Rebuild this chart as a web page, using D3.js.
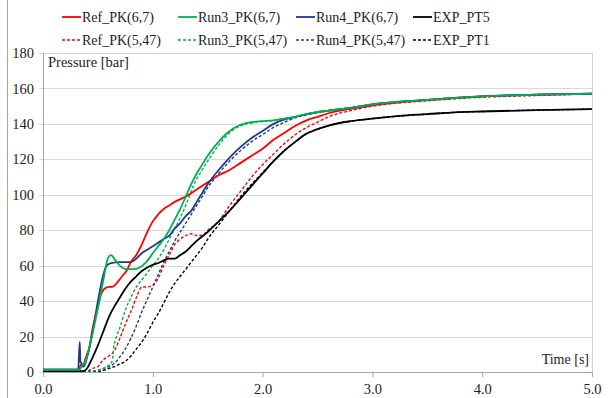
<!DOCTYPE html>
<html>
<head>
<meta charset="utf-8">
<script src="https://cdn.jsdelivr.net/npm/d3@7"></script>
</head>
<body style="margin:0">
<script>
// pressure curves, [time s, pressure bar]

var refPK67 = [[0,1.2],[0.33,1.2],[0.34,4],[0.36,3],[0.38,6],[0.4,10],[0.42,13],[0.45,24],[0.5,37],[0.53,44],[0.56,47],[0.6,48],[0.63,48],[0.67,50],[0.72,54],[0.76,57],[0.8,62],[0.85,66],[0.9,72],[0.95,79],[1.0,85],[1.05,89],[1.1,92],[1.15,94],[1.2,96],[1.3,99],[1.4,103],[1.5,107],[1.6,111],[1.7,114],[1.8,118],[1.9,122],[2.0,126],[2.1,131],[2.2,135],[2.3,139],[2.4,142],[2.5,144],[2.6,146],[2.8,148.5],[3.0,150.5],[3.5,153.5],[4.0,155.5],[4.5,156.5],[5.0,157]];

var refPK547 = [[0,0.5],[0.4,0.5],[0.45,2],[0.5,3],[0.55,7],[0.6,9],[0.65,12],[0.7,19],[0.75,27],[0.8,34],[0.85,42],[0.9,48],[0.95,48],[1.0,49],[1.05,53],[1.1,60],[1.15,66],[1.2,72],[1.25,75],[1.3,77],[1.35,78],[1.4,77],[1.45,77],[1.5,80],[1.6,85],[1.7,94],[1.8,102],[1.9,110],[2.0,117],[2.1,123],[2.2,129],[2.3,134],[2.4,138],[2.5,141],[2.6,144],[2.8,147.5],[3.0,150],[3.5,153],[4.0,155],[4.5,156],[5.0,157]];

var run3PK67 = [[0,1.2],[0.33,1.2],[0.35,3],[0.38,5],[0.43,16],[0.47,27],[0.5,36],[0.55,52],[0.59,64],[0.62,66],[0.66,63],[0.7,60],[0.76,58],[0.82,58],[0.88,59],[0.94,62],[1.0,67],[1.05,71],[1.1,75],[1.15,80],[1.2,86],[1.25,92],[1.3,99],[1.35,106],[1.4,112],[1.45,117],[1.5,122],[1.6,130],[1.7,136],[1.8,139.5],[1.9,141],[2.0,141.5],[2.1,142],[2.2,143],[2.3,144],[2.4,145.5],[2.6,147.5],[2.8,149],[3.0,151],[3.5,153.5],[4.0,155.5],[4.5,156.5],[5.0,157]];

var run3PK547 = [[0,0.5],[0.45,0.5],[0.5,1],[0.55,2],[0.6,4],[0.63,6],[0.645,14],[0.67,20],[0.7,25],[0.75,35],[0.8,42],[0.85,48],[0.9,52],[0.95,56],[1.0,60],[1.05,64],[1.1,69],[1.15,75],[1.2,81],[1.25,87],[1.3,94],[1.35,102],[1.4,109],[1.45,114],[1.5,119],[1.6,128],[1.7,135],[1.8,139],[1.9,140.5],[2.0,141.5],[2.1,142],[2.2,143],[2.3,144],[2.4,145.5],[2.6,147.5],[2.8,149],[3.0,151],[3.5,153.5],[4.0,155.5],[4.5,156.5],[5.0,157]];

var run4PK67 = [[0,1.5],[0.32,1.5],[0.335,17],[0.34,6],[0.35,5],[0.37,3],[0.4,8],[0.45,22],[0.5,40],[0.55,55],[0.58,60],[0.62,61.5],[0.7,62],[0.8,62],[0.85,64],[0.9,67],[0.95,69],[1.0,71],[1.05,73],[1.1,75],[1.15,77],[1.2,81],[1.25,84],[1.3,88],[1.35,91],[1.4,96],[1.45,101],[1.5,106],[1.6,114],[1.7,121],[1.8,127],[1.9,132],[2.0,136],[2.1,140],[2.2,142.5],[2.3,144],[2.4,145.5],[2.6,147.5],[2.8,149],[3.0,151],[3.5,153.5],[4.0,155.5],[4.5,156.5],[5.0,157]];

var run4PK547 = [[0,0.5],[0.45,0.5],[0.5,1],[0.55,2],[0.6,3],[0.65,5],[0.7,8.5],[0.75,13],[0.8,19],[0.85,26],[0.9,34],[0.95,41],[1.0,48],[1.05,55],[1.1,62],[1.15,68],[1.2,74],[1.25,79],[1.3,84],[1.35,89],[1.4,94],[1.45,99],[1.5,104],[1.6,112],[1.7,119],[1.8,125],[1.9,130],[2.0,134],[2.1,138],[2.2,141],[2.3,143.5],[2.4,145],[2.6,147.5],[2.8,149],[3.0,151],[3.5,153.5],[4.0,155.5],[4.5,156.5],[5.0,157]];

var expPT5 = [[0,0.3],[0.37,0.5],[0.4,2],[0.45,8],[0.5,15],[0.55,23],[0.6,31],[0.65,37],[0.7,42],[0.75,47],[0.8,51],[0.85,54],[0.9,57],[0.95,59],[1.0,60.5],[1.05,61.5],[1.1,63],[1.15,64],[1.2,64],[1.25,66],[1.3,68],[1.35,71],[1.4,74],[1.5,79],[1.6,85],[1.7,91],[1.8,98],[1.9,105],[2.0,112],[2.1,119],[2.2,125],[2.3,130],[2.4,134.5],[2.5,137],[2.6,139],[2.7,140.5],[2.8,141.5],[3.0,143],[3.25,144.5],[3.5,145.5],[3.75,146.5],[4.0,147],[4.5,147.8],[5.0,148.3]];

var expPT1 = [[0,0.2],[0.5,0.2],[0.55,1],[0.6,2],[0.65,3],[0.7,4.5],[0.75,6],[0.8,9],[0.85,13],[0.9,17],[0.95,22],[1.0,28],[1.05,33],[1.1,39],[1.15,45],[1.2,50],[1.25,54],[1.3,58],[1.35,62],[1.4,66],[1.45,70],[1.5,75],[1.6,83],[1.7,91],[1.8,99],[1.9,106],[2.0,112.5],[2.1,119],[2.2,125],[2.3,130],[2.4,134.5],[2.5,137],[2.6,139],[2.7,140.5],[2.8,141.5],[3.0,143],[3.25,144.5],[3.5,145.5],[3.75,146.5],[4.0,147],[4.5,147.8],[5.0,148.3]];

var seriesNames = ["Ref_PK(6,7)", "Run3_PK(6,7)", "Run4_PK(6,7)", "EXP_PT5",
                   "Ref_PK(5,47)", "Run3_PK(5,47)", "Run4_PK(5,47)", "EXP_PT1"];
var seriesData = [refPK67, run3PK67, run4PK67, expPT5,
                  refPK547, run3PK547, run4PK547, expPT1];
var colors = ["#ff0000", "#00b050", "#1f3a8a", "#000000",
              "#ff0000", "#00b050", "#1f3a8a", "#000000"];

var xTicks = [0, 1, 2, 3, 4, 5];
var yTicks = [0, 20, 40, 60, 80, 100, 120, 140, 160, 180];

var serif = "'Liberation Serif'";

var width = 608, height = 398;
var margin = {top: 53, right: 16, bottom: 26, left: 43};
var w = width - margin.left - margin.right,
    h = height - margin.top - margin.bottom;

var svg = d3.select("body").append("svg")
    .attr("width", width)
    .attr("height", height)
    .style("font-family", serif)
    .style("background", "#fff");

// outer frame edge on the left
svg.append("line")
    .attr("x1", 7.5).attr("x2", 7.5)
    .attr("y1", 0).attr("y2", height)
    .style("stroke", "#a6a6a6");

var g = svg.append("g")
    .attr("transform", "translate(" + margin.left + "," + margin.top + ")");

var x = d3.scaleLinear().domain([0, 5]).range([0, w]);
var y = d3.scaleLinear().domain([0, 180]).range([h, 0]);

// gridlines
g.append("g")
    .selectAll("line")
    .data(yTicks)
    .enter().append("line")
    .attr("x1", -4).attr("x2", w)
    .attr("y1", function(d) { return Math.round(y(d)) + 0.5; })
    .attr("y2", function(d) { return Math.round(y(d)) + 0.5; })
    .style("stroke", "#d9d9d9");

// plot box
g.append("rect")
    .attr("x", 0.5).attr("y", 0.5)
    .attr("width", w).attr("height", h)
    .style("fill", "none")
    .style("stroke", "#d0d0d0");

// axes
var xAxis = g.append("g")
    .attr("transform", "translate(0," + h + ")")
    .call(d3.axisBottom(x).tickValues(xTicks).tickSize(5).tickSizeOuter(0).tickFormat(d3.format(".1f")));
xAxis.select(".domain").style("stroke", "#a6a6a6");
xAxis.selectAll(".tick line").style("stroke", "#a6a6a6");
xAxis.selectAll("text")
    .attr("dy", "0.8em")
    .attr("y", 10)
    .style("font-family", serif)
    .style("font-size", "14.5px")
    .style("fill", "#222");

var yAxis = g.append("g")
    .call(d3.axisLeft(y).tickValues(yTicks).tickSize(0).tickSizeOuter(0));
yAxis.select(".domain").style("stroke", "#a6a6a6");
yAxis.selectAll("text")
    .attr("x", -9)
    .style("font-family", serif)
    .style("font-size", "14.5px")
    .style("fill", "#222");

// axis titles inside the plot
g.append("text")
    .attr("x", 5)
    .attr("y", 14)
    .style("font-family", serif)
    .style("font-size", "14.5px")
    .style("fill", "#222")
    .text("Pressure [bar]");

g.append("text")
    .attr("x", w - 3)
    .attr("y", h - 8)
    .style("text-anchor", "end")
    .style("font-family", serif)
    .style("font-size", "14px")
    .style("fill", "#222")
    .text("Time [s]");

// curves
var line = d3.line()
    .x(function(d) { return x(d[0]); })
    .y(function(d) { return y(d[1]); })
    .curve(d3.curveMonotoneX);

g.append("clipPath").attr("id", "clip")
  .append("rect").attr("width", w).attr("height", h);

var curves = g.append("g").attr("clip-path", "url(#clip)");

// draw dashed ones first, solid ones on top
var order = [7, 4, 6, 5, 3, 0, 2, 1];
order.forEach(function(i) {
  curves.append("path")
      .datum(seriesData[i])
      .attr("d", line)
      .style("fill", "none")
      .style("stroke", colors[i])
      .style("stroke-width", i < 4 ? 1.8 : 1.4)
      .style("stroke-dasharray", i < 4 ? null : "3,2");
});

// legend, two rows of four
var legendX = [62, 178, 296, 413];
var legendY = [17, 40];

var legend = svg.append("g").attr("class", "legend");
seriesNames.forEach(function(name, i) {
  var col = i % 4, row = Math.floor(i / 4);
  var item = legend.append("g")
      .attr("transform", "translate(" + legendX[col] + "," + legendY[row] + ")");
  item.append("line")
      .attr("x1", 0).attr("x2", 19)
      .attr("y1", 0).attr("y2", 0)
      .style("stroke", colors[i])
      .style("stroke-width", row === 0 ? 1.8 : 1.4)
      .style("stroke-dasharray", row === 0 ? null : "3,2");
  item.append("text")
      .attr("x", 20)
      .attr("y", 0)
      .attr("dy", "0.35em")
      .style("font-family", serif)
      .style("font-size", "14px")
      .style("fill", "#222")
      .text(name);
});
</script>
</body>
</html>
